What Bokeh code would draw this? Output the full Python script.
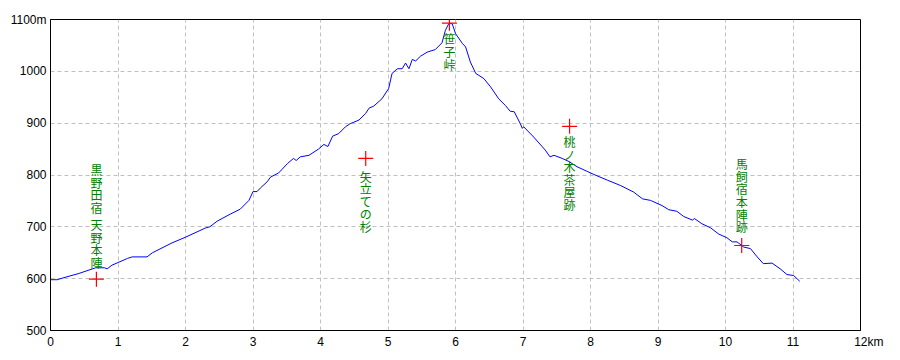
from bokeh.plotting import figure
from bokeh.models import ColumnDataSource, FixedTicker, Range1d
from bokeh.core.properties import value
from bokeh.embed import file_html
from bokeh.resources import INLINE

# Elevation profile (distance km, elevation m)
dist_km = [0.0, 0.1, 0.2, 0.42, 0.67, 0.80, 0.84, 0.91, 1.14, 1.21, 1.43, 1.51, 1.80, 2.0,
           2.30, 2.36, 2.47, 2.67, 2.81, 2.94, 3.0, 3.06, 3.11, 3.21, 3.26, 3.38, 3.51,
           3.60, 3.64, 3.70, 3.83, 3.97, 4.05, 4.08, 4.11, 4.18, 4.27, 4.37, 4.44, 4.57,
           4.67, 4.72, 4.79, 4.91, 5.01, 5.06, 5.14, 5.21, 5.26, 5.31, 5.36, 5.41, 5.48,
           5.58, 5.70, 5.80, 5.85, 5.90, 5.95, 6.0, 6.10, 6.15, 6.22, 6.30, 6.42, 6.52,
           6.64, 6.74, 6.81, 6.87, 6.96, 6.99, 7.01, 7.16, 7.33, 7.40, 7.46, 7.58, 7.68,
           7.80, 7.95, 8.05, 8.25, 8.44, 8.64, 8.77, 8.89, 9.06, 9.16, 9.28, 9.38, 9.51,
           9.54, 9.65, 9.78, 9.90, 10.02, 10.10, 10.17, 10.27, 10.37, 10.47, 10.56, 10.69,
           10.81, 10.91, 11.01, 11.10]
elev_m = [598, 598, 602, 610, 621, 621, 619, 626, 639, 642, 642, 650, 669, 680,
          698, 700, 711, 725, 734, 751, 768, 768, 775, 787, 796, 804, 822,
          832, 828, 835, 838, 850, 859, 857, 855, 875, 880, 893, 899, 906,
          919, 929, 933, 947, 967, 996, 1005, 1005, 1016, 1005, 1023, 1020, 1029,
          1037, 1042, 1055, 1079, 1092, 1092, 1073, 1054, 1047, 1018, 996, 986, 970,
          947, 934, 923, 922, 899, 890, 893, 873, 848, 835, 838, 832, 826,
          816, 807, 801, 790, 780, 767, 754, 751, 741, 733, 730, 720, 713,
          716, 706, 698, 686, 679, 671, 671, 661, 658, 642, 629, 630,
          619, 608, 606, 595]

# Landmarks (markers)
mark_km = [0.68, 4.67, 5.91, 7.69, 10.24]
mark_m = [599, 832, 1093, 894, 664]

# Vertical landmark labels
label_text = ["黒野田宿", "天野本陣", "矢立ての杉", "笹子峠", "桃ノ木茶屋跡", "馬飼宿本陣跡"]
label_km = [0.68, 0.68, 4.67, 5.91, 7.69, 10.24]
label_top_m = [827, 721, 814, 1079, 881, 838]

x_ticks = [0, 1, 2, 3, 4, 5, 6, 7, 8, 9, 10, 11, 12]
y_ticks = [500, 600, 700, 800, 900, 1000, 1100]

p = figure(width=900, height=360, output_backend="svg", toolbar_location=None,
           x_range=Range1d(0, 12), y_range=Range1d(500, 1100),
           min_border_left=50, min_border_right=40, min_border_top=19, min_border_bottom=30)
p.background_fill_color = "white"
p.border_fill_color = "white"
p.outline_line_color = "black"
p.outline_line_width = 1

for ax in (p.xaxis, p.yaxis):
    ax.axis_line_color = "black"
    ax.major_tick_out = 0
    ax.major_tick_in = 0
    ax.minor_tick_out = 0
    ax.minor_tick_in = 0
    ax.major_label_text_font = "Liberation Sans"
    ax.major_label_text_font_size = "12px"
    ax.major_label_text_color = "black"
    ax.major_label_standoff = 4

p.xaxis.ticker = FixedTicker(ticks=x_ticks)
p.yaxis.ticker = FixedTicker(ticks=y_ticks)
p.xaxis.major_label_overrides = {t: str(t) for t in x_ticks}
p.xaxis.major_label_overrides[12] = "\u00a0\u00a0\u00a0\u00a0\u00a012km"
p.yaxis.major_label_overrides = {1100: "1100m"}

for g in (p.xgrid, p.ygrid):
    g.grid_line_color = "#c0c0c0"
    g.grid_line_dash = "4 3"
    g.grid_line_width = 1

p.line(dist_km, elev_m, line_color="#0000ff", line_width=1)

p.scatter(mark_km, mark_m, marker="cross", size=15, line_color="#ff0000", line_width=1.2)

vert = ["\n".join(list(t)) for t in label_text]
src = ColumnDataSource(dict(x=label_km, y=label_top_m, t=vert))
p.text(x="x", y="y", text="t", source=src, text_font=value("Noto Sans CJK JP"),
       text_font_size="12px", text_color="#008000", text_align="center",
       text_baseline="top", text_line_height=0.74)

open("out.html", "w").write(file_html(p, INLINE))
